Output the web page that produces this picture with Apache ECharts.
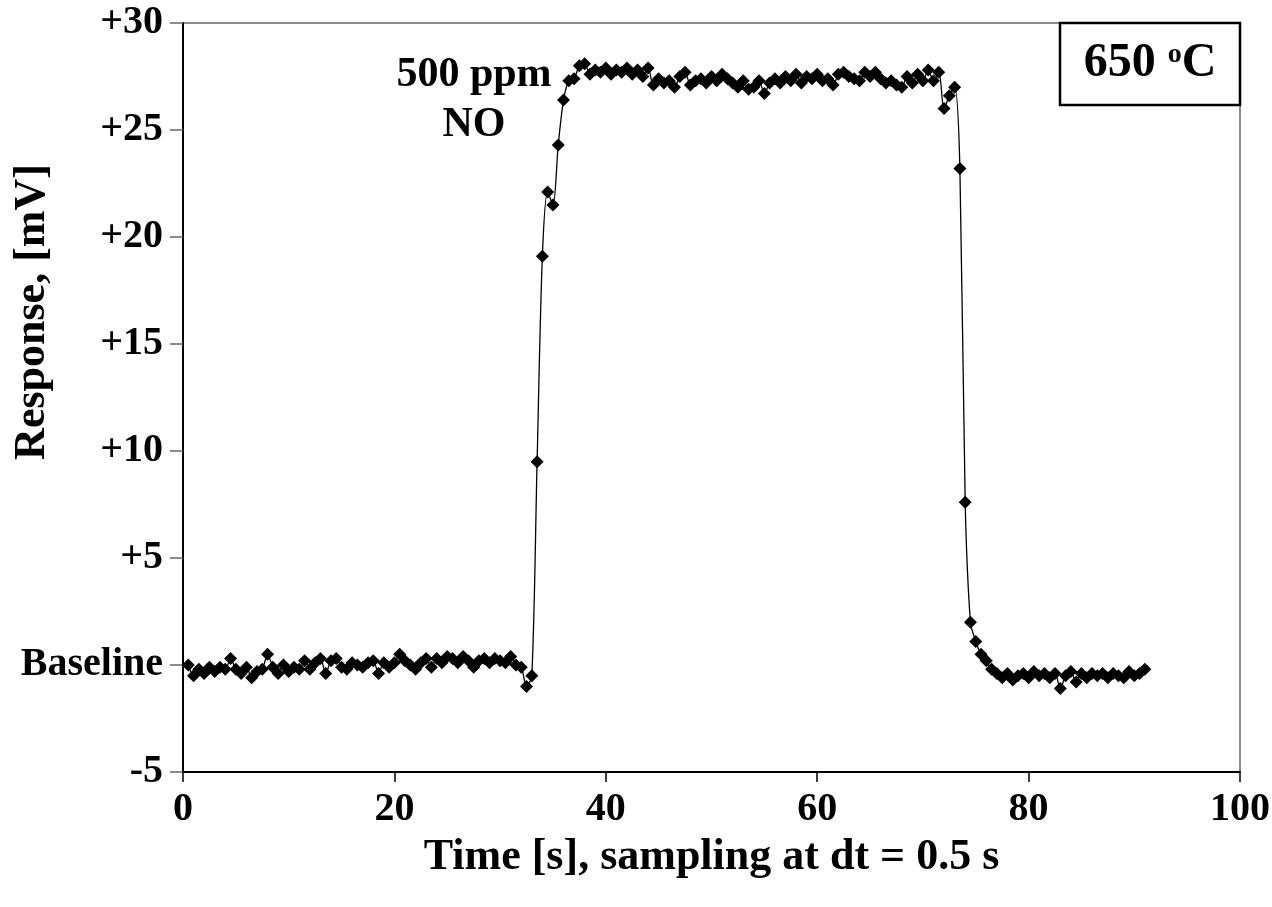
<!DOCTYPE html>
<html>
<head>
<meta charset="utf-8">
<script src="https://cdn.jsdelivr.net/npm/echarts@6/dist/echarts.min.js"></script>
<style>
html,body{margin:0;padding:0;background:#fff;}
#chart{width:1272px;height:907px;}
</style>
</head>
<body>
<div id="chart"></div>
<script>
// Time [s], sampled every 0.5 s
var times = [
  0.5,1,1.5,2,2.5,3,3.5,4,4.5,5,5.5,6,6.5,7,7.5,8,8.5,9,9.5,10,
  10.5,11,11.5,12,12.5,13,13.5,14,14.5,15,15.5,16,16.5,17,17.5,18,18.5,19,19.5,20,
  20.5,21,21.5,22,22.5,23,23.5,24,24.5,25,25.5,26,26.5,27,27.5,28,28.5,29,29.5,30,
  30.5,31,31.5,32,32.5,33,33.5,34,34.5,35,35.5,36,36.5,37,37.5,38,38.5,39,39.5,40,
  40.5,41,41.5,42,42.5,43,43.5,44,44.5,45,45.5,46,46.5,47,47.5,48,48.5,49,49.5,50,
  50.5,51,51.5,52,52.5,53,53.5,54,54.5,55,55.5,56,56.5,57,57.5,58,58.5,59,59.5,60,
  60.5,61,61.5,62,62.5,63,63.5,64,64.5,65,65.5,66,66.5,67,67.5,68,68.5,69,69.5,70,
  70.5,71,71.5,72,72.5,73,73.5,74,74.5,75,75.5,76,76.5,77,77.5,78,78.5,79,79.5,80,
  80.5,81,81.5,82,82.5,83,83.5,84,84.5,85,85.5,86,86.5,87,87.5,88,88.5,89,89.5,90,
  90.5,91
];
// Response [mV]
var response = [
  0.0,-0.5,-0.2,-0.4,-0.1,-0.3,-0.1,-0.2,0.3,-0.2,-0.4,-0.1,-0.6,-0.3,-0.2,0.5,-0.1,-0.4,0.0,-0.3,
  -0.1,-0.2,0.2,-0.2,0.1,0.3,-0.4,0.2,0.3,-0.1,-0.2,0.1,0.0,-0.1,0.1,0.2,-0.4,0.1,-0.1,0.1,
  0.5,0.2,0.0,-0.2,0.1,0.3,-0.1,0.3,0.1,0.4,0.3,0.1,0.4,0.2,-0.1,0.2,0.3,0.1,0.3,0.2,
  0.1,0.4,0.0,-0.1,-1.0,-0.5,9.5,19.1,22.1,21.5,24.3,26.4,27.3,27.4,28.0,28.1,27.6,27.8,27.7,27.9,
  27.6,27.8,27.7,27.9,27.6,27.8,27.5,27.9,27.1,27.4,27.2,27.3,27.0,27.5,27.7,27.1,27.3,27.4,27.2,27.5,
  27.3,27.6,27.4,27.2,27.0,27.3,26.9,27.0,27.3,26.7,27.2,27.4,27.2,27.5,27.3,27.6,27.2,27.5,27.4,27.6,
  27.3,27.4,27.1,27.6,27.7,27.5,27.4,27.3,27.7,27.5,27.7,27.4,27.2,27.3,27.1,27.0,27.5,27.2,27.6,27.3,
  27.8,27.3,27.7,26.0,26.6,27.0,23.2,7.6,2.0,1.1,0.5,0.2,-0.2,-0.4,-0.6,-0.4,-0.7,-0.5,-0.4,-0.6,
  -0.3,-0.5,-0.4,-0.6,-0.4,-1.1,-0.5,-0.3,-0.8,-0.4,-0.6,-0.4,-0.5,-0.4,-0.6,-0.4,-0.5,-0.6,-0.3,-0.5,
  -0.4,-0.2
];
var xTicks = [0, 20, 40, 60, 80, 100];
var yTickLabels = {'-5':'-5','0':'Baseline','5':'+5','10':'+10','15':'+15','20':'+20','25':'+25','30':'+30'};
var xTitle = 'Time [s], sampling at dt = 0.5 s';
var yTitle = 'Response, [mV]';
var gasLabel = '500 ppm\nNO';

var points = times.map(function (t, i) { return [t, response[i]]; });
var font = '"Liberation Serif", "DejaVu Serif", serif';

var chart = echarts.init(document.getElementById('chart'), null, {renderer: 'canvas'});
chart.setOption({
  backgroundColor: '#fff',
  animation: false,
  grid: {left: 183, right: 32, top: 23, bottom: 135, containLabel: false, outerBoundsMode: 'none',
    show: true, borderColor: '#666', borderWidth: 1.5, backgroundColor: 'transparent'},
  xAxis: {
    type: 'value', min: xTicks[0], max: xTicks[xTicks.length - 1], interval: 20,
    name: xTitle, nameLocation: 'middle', nameGap: 64, nameMoveOverlap: false,
    nameTextStyle: {fontFamily: font, fontWeight: 'bold', fontSize: 44, color: '#000'},
    axisLine: {show: true, onZero: false, lineStyle: {color: '#000', width: 2}},
    axisTick: {show: true, length: 10, lineStyle: {color: '#000', width: 1.5}},
    axisLabel: {fontFamily: font, fontWeight: 'bold', fontSize: 40, color: '#000', margin: 18},
    splitLine: {show: false}
  },
  yAxis: {
    type: 'value', min: -5, max: 30, interval: 5,
    axisLine: {show: true, onZero: false, lineStyle: {color: '#000', width: 2}},
    axisTick: {show: true, length: 13, lineStyle: {color: '#666', width: 1.5}},
    axisLabel: {fontFamily: font, fontWeight: 'bold', fontSize: 40, color: '#000', margin: 20,
      formatter: function (v) { return yTickLabels[String(v)] !== undefined ? yTickLabels[String(v)] : String(v); }},
    splitLine: {show: false}
  },
  series: [{
    type: 'line', data: points, smooth: 0.3,
    symbol: 'diamond', symbolSize: 13,
    lineStyle: {color: '#000', width: 1.3},
    itemStyle: {color: '#000'},
    z: 3
  }],
  graphic: [
    {type: 'text', x: 33, y: 312, rotation: Math.PI / 2, z: 10,
      style: {text: yTitle, fontFamily: font, fontWeight: 'bold', fontSize: 44, fill: '#000', align: 'center', verticalAlign: 'middle'}},
    {type: 'text', x: 474, y: 50, z: 10,
      style: {text: gasLabel, fontFamily: font, fontWeight: 'bold', fontSize: 42, fill: '#000', align: 'center', verticalAlign: 'top', lineHeight: 50}},
    {type: 'rect', shape: {x: 1060, y: 23, width: 180, height: 82}, z: 10,
      style: {fill: '#fff', stroke: '#000', lineWidth: 2.5}},
    {type: 'text', x: 1150, y: 64, z: 11,
      style: {text: '650 {s|o}C', fontFamily: font, fontWeight: 'bold', fontSize: 48, fill: '#000', align: 'center', verticalAlign: 'middle',
        rich: {s: {fontFamily: font, fontWeight: 'bold', fontSize: 28, fill: '#000', padding: [0, 0, 18, 0]}}}}
  ]
});
</script>
</body>
</html>
